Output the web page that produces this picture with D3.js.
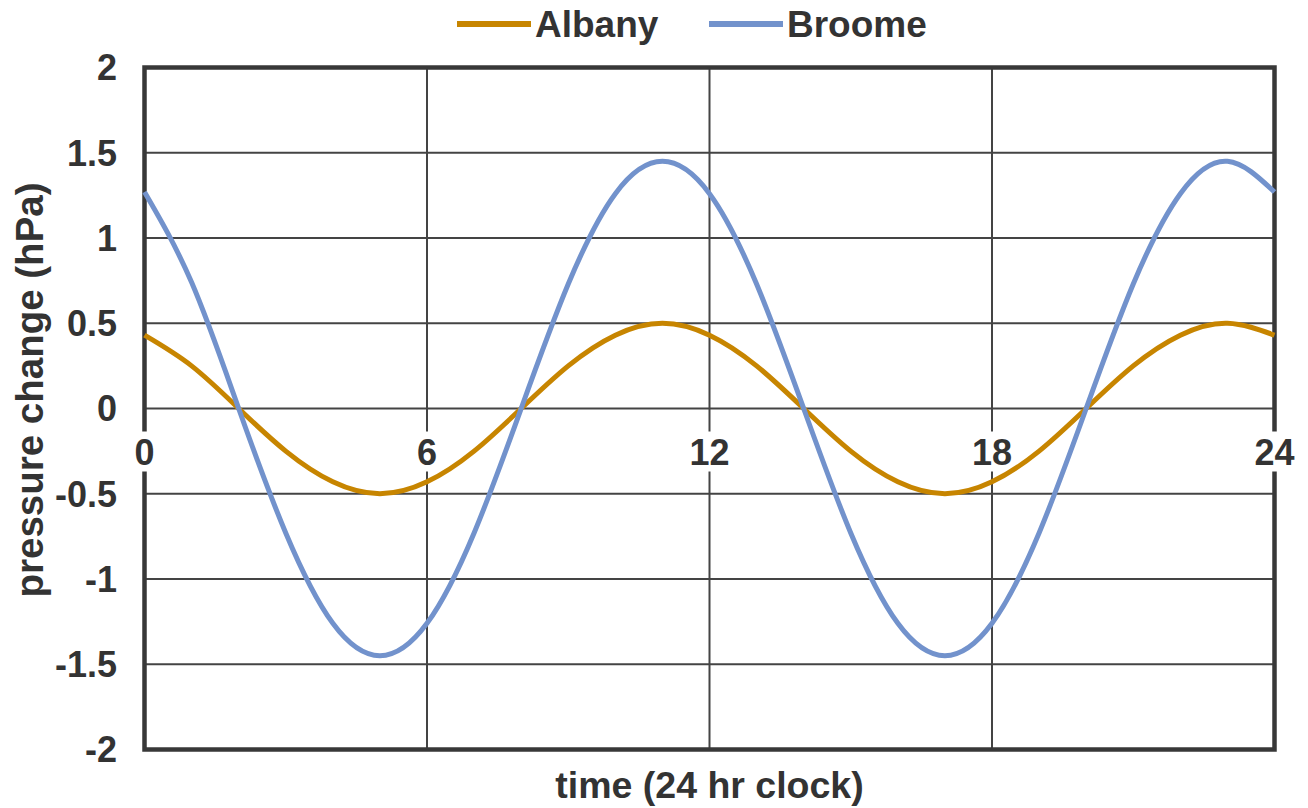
<!DOCTYPE html>
<html>
<head>
<meta charset="utf-8">
<script src="https://cdn.jsdelivr.net/npm/d3@7"></script>
<style>
  body { margin: 0; background: #fff; }
  text { font-family: "Liberation Sans", Arial, sans-serif; font-weight: bold; fill: #333; }
</style>
</head>
<body>
<div id="chart"></div>
<script>
// hourly readings
var hours = [0,1,2,3,4,5,6,7,8,9,10,11,12,13,14,15,16,17,18,19,20,21,22,23,24];
var albany = [0.43,0.25,0,-0.25,-0.43,-0.5,-0.43,-0.25,0,0.25,0.43,0.5,0.43,0.25,0,-0.25,-0.43,-0.5,-0.43,-0.25,0,0.25,0.43,0.5,0.43];
var broome = [1.27,0.74,0,-0.73,-1.26,-1.45,-1.26,-0.73,0,0.73,1.26,1.45,1.26,0.73,0,-0.73,-1.26,-1.45,-1.26,-0.73,0,0.73,1.26,1.45,1.27];
var seriesNames = ["Albany", "Broome"];
var seriesColors = ["#c78500", "#7292cc"];
var xTicks = [0, 6, 12, 18, 24];
var yTicks = [2, 1.5, 1, 0.5, 0, -0.5, -1, -1.5, -2];

var width = 1308, height = 808;
var margin = {top: 67.5, right: 33.5, bottom: 58.5, left: 144.5};

var svg = d3.select("#chart").append("svg")
    .attr("width", width)
    .attr("height", height);

var xScale = d3.scaleLinear().domain([0, 24]).range([margin.left, width - margin.right]);
var yScale = d3.scaleLinear().domain([-2, 2]).range([height - margin.bottom, margin.top]);

//gridlines
svg.append("g").selectAll("line.hgrid")
    .data(yTicks.filter(d => d > -2 && d < 2))
    .enter().append("line")
    .attr("x1", xScale(0)).attr("x2", xScale(24))
    .attr("y1", d => yScale(d)).attr("y2", d => yScale(d))
    .attr("stroke", "#444").attr("stroke-width", 2);

svg.append("g").selectAll("line.vgrid")
    .data(xTicks.filter(d => d > 0 && d < 24))
    .enter().append("line")
    .attr("x1", d => xScale(d)).attr("x2", d => xScale(d))
    .attr("y1", yScale(2)).attr("y2", yScale(-2))
    .attr("stroke", "#444").attr("stroke-width", 2);

//plot frame
svg.append("rect")
    .attr("x", xScale(0)).attr("y", yScale(2))
    .attr("width", xScale(24) - xScale(0))
    .attr("height", yScale(-2) - yScale(2))
    .attr("fill", "none")
    .attr("stroke", "#383838").attr("stroke-width", 4.5);

//x tick labels sit under the zero line with a white box behind
var xlab = svg.append("g").selectAll("g")
    .data(xTicks)
    .enter().append("g")
    .attr("transform", d => `translate(${xScale(d)}, ${yScale(0) + 44})`);
xlab.append("rect")
    .attr("x", d => d >= 10 ? -26 : -15)
    .attr("y", -21)
    .attr("width", d => d >= 10 ? 52 : 30)
    .attr("height", 40)
    .attr("fill", "#fff");
xlab.append("text")
    .attr("text-anchor", "middle")
    .attr("dy", "0.36em")
    .style("font-size", "36px")
    .text(d => d);

//series lines
var line = d3.line()
    .x((d, i) => xScale(hours[i]))
    .y(d => yScale(d))
    .curve(d3.curveNatural);

[albany, broome].forEach(function(vals, i) {
    svg.append("path")
        .datum(vals)
        .attr("d", line)
        .attr("fill", "none")
        .attr("stroke", seriesColors[i])
        .attr("stroke-width", 5);
});

//y tick labels
svg.append("g").selectAll("text")
    .data(yTicks)
    .enter().append("text")
    .attr("x", 117)
    .attr("y", d => yScale(d))
    .attr("dy", "0.36em")
    .attr("text-anchor", "end")
    .style("font-size", "36px")
    .text(d => d);

//axis titles
svg.append("text")
    .attr("x", (xScale(0) + xScale(24)) / 2)
    .attr("y", 798)
    .attr("text-anchor", "middle")
    .style("font-size", "37.5px")
    .text("time (24 hr clock)");

svg.append("text")
    .attr("transform", "translate(43, 390) rotate(-90)")
    .attr("text-anchor", "middle")
    .style("font-size", "38.5px")
    .text("pressure change (hPa)");

//legend
var legendX = [457, 709];
var legend = svg.append("g").selectAll("g")
    .data(seriesNames)
    .enter().append("g")
    .attr("transform", (d, i) => `translate(${legendX[i]}, 24)`);
legend.append("line")
    .attr("x1", 0).attr("x2", 74)
    .attr("stroke", (d, i) => seriesColors[i])
    .attr("stroke-width", 6);
legend.append("text")
    .attr("x", 78)
    .attr("dy", "0.36em")
    .style("font-size", "37px")
    .text(d => d);
</script>
</body>
</html>
